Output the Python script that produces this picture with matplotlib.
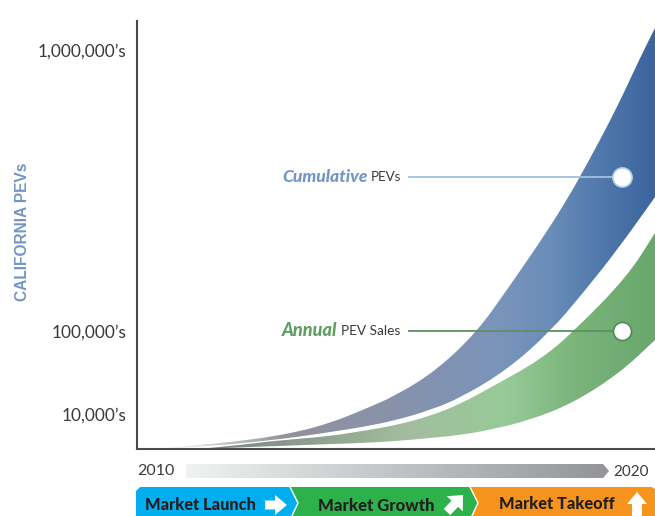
import matplotlib
matplotlib.use('Agg')
import matplotlib.pyplot as plt
import numpy as np
from matplotlib.colors import LinearSegmentedColormap
from matplotlib.patches import PathPatch, Polygon, FancyArrow
from matplotlib.path import Path

plt.rcParams['font.family'] = ['Lato', 'DejaVu Sans']

# Curves: years after 2010, height on the schematic axis
cum_top_x = [0.44, 0.83, 1.80, 2.43, 3.09, 3.73, 4.36, 5.02, 5.79, 6.56, 7.14, 7.78, 8.30, 8.73, 9.07, 9.38, 9.71, 10.0, 10.0]
cum_top_y = [0, 2, 7, 11, 17, 26, 39, 54, 79, 117, 159, 207, 249, 289, 322, 354, 391, 421, 421]
cum_bot_x = [1.47, 2.05, 2.43, 3.09, 3.73, 4.36, 5.02, 5.66, 6.24, 7.14, 7.97, 8.61, 9.27, 9.96, 10.0, 10.0]
cum_bot_y = [3, 6, 8, 12, 17, 22, 29, 39, 51, 79, 117, 156, 199, 249, 252, 252]
ann_top_x = [1.20, 2.18, 2.43, 3.09, 3.73, 4.36, 5.02, 5.66, 6.24, 6.81, 7.78, 8.42, 9.46, 10.0, 10.0]
ann_top_y = [0, 5, 7, 10, 13, 18, 24, 33, 45, 61, 89, 117, 172, 216, 216]
ann_bot_x = [2.12, 2.76, 3.73, 4.36, 5.02, 5.66, 6.24, 6.81, 7.59, 8.42, 9.32, 10.0, 10.0]
ann_bot_y = [2, 3, 5, 6, 8, 11, 14, 19, 29, 46, 76, 109, 109]

tick_pos = [35, 118, 399]
tick_labels = ["10,000\u2019s", "100,000\u2019s", "1,000,000\u2019s"]

marker_x = [9.36, 9.36]
marker_y = [272, 118]
banner_names = ['Market Launch', 'Market Growth', 'Market Takeoff']

cum_cmap = LinearSegmentedColormap.from_list('cum', [
    (0.00, '#ffffff'), (0.10, '#e4e4e6'), (0.28, '#92939a'), (0.50, '#8792ab'),
    (0.70, '#7a94ba'), (0.80, '#6a8db9'), (0.90, '#5078ab'), (1.00, '#3c659e')])
ann_cmap = LinearSegmentedColormap.from_list('ann', [
    (0.00, '#ffffff'), (0.14, '#7b8580'), (0.30, '#8a9a8c'), (0.52, '#a3bd9f'),
    (0.71, '#98ca98'), (0.85, '#7ab47b'), (1.00, '#69a76d')])
bar_cmap = LinearSegmentedColormap.from_list('bar', ['#f1f2f2', '#929497'])


def smooth_path(top_x, top_y, bot_x, bot_y):
    # closed band: upper edge out, lower edge back, with read points as bezier controls
    def edge(x, y):
        pts = list(zip(x, y))
        verts, codes = [], []
        for i in range(1, len(pts) - 1):
            mid = ((pts[i][0] + pts[i + 1][0]) / 2, (pts[i][1] + pts[i + 1][1]) / 2)
            verts += [pts[i], mid]
            codes += [Path.CURVE3, Path.CURVE3]
        return pts[0], verts, codes

    start, v1, c1 = edge(top_x, top_y)
    start2, v2, c2 = edge(bot_x[::-1], bot_y[::-1])
    verts = [start] + v1 + [start2] + v2 + [start, start]
    codes = [Path.MOVETO] + c1 + [Path.LINETO] + c2 + [Path.LINETO, Path.CLOSEPOLY]
    return Path(verts, codes)


fig = plt.figure(figsize=(6.55, 5.16), dpi=100)
W, H = 655, 516

# main chart
ax = fig.add_axes([137 / W, (H - 449) / H, (W - 137) / W, 428 / H])
ax.set_xlim(0, 10)
ax.set_ylim(0, 428)
grad = np.linspace(0, 1, 512).reshape(1, -1)
for tx, ty, bx, by, cmap in [(cum_top_x, cum_top_y, cum_bot_x, cum_bot_y, cum_cmap),
                             (ann_top_x, ann_top_y, ann_bot_x, ann_bot_y, ann_cmap)]:
    im = ax.imshow(grad, extent=[0, 10, 0, 428], aspect='auto', cmap=cmap, zorder=1)
    im.set_clip_path(PathPatch(smooth_path(tx, ty, bx, by), transform=ax.transData))

for s in ['top', 'right']:
    ax.spines[s].set_visible(False)
for s in ['left', 'bottom']:
    ax.spines[s].set_color('#4a4a4c')
    ax.spines[s].set_linewidth(1.5)
ax.set_xticks([])
ax.set_yticks(tick_pos)
ax.set_yticklabels(tick_labels, fontsize=12.4, color='#3a3a3c')
ax.tick_params(axis='y', length=0, pad=7.5)

# callouts
ax.plot([5.26, marker_x[0]], [marker_y[0], marker_y[0]], color='#a3c0e0', lw=1.3, zorder=3)
ax.plot([5.26, marker_x[1]], [marker_y[1], marker_y[1]], color='#5c9160', lw=1.3, zorder=3)
ax.scatter(marker_x[0], marker_y[0], s=190, facecolor='white', edgecolor='#b5cde8', lw=1.2, zorder=4)
ax.scatter(marker_x[1], marker_y[1], s=170, facecolor='white', edgecolor='#4f8a55', lw=1.2, zorder=4)

ax.text(4.45, marker_y[0], 'Cumulative', ha='right', va='center', fontsize=12.6, fontweight='black',
        fontstyle='italic', color='#7395c4')
ax.text(4.52, marker_y[0], 'PEVs', ha='left', va='center', fontsize=9.6, color='#3a3a3c')
ax.text(3.87, marker_y[1], 'Annual', ha='right', va='center', fontsize=13, fontweight='black',
        fontstyle='italic', color='#5f9e62')
ax.text(3.93, marker_y[1], 'PEV Sales', ha='left', va='center', fontsize=9.8, color='#3a3a3c')

# everything outside the plot, in pixels
ov = fig.add_axes([0, 0, 1, 1], zorder=5)
ov.patch.set_alpha(0)
ov.axis('off')

bar = ov.imshow(grad, extent=[186, 609, 478, 464], aspect='auto', cmap=bar_cmap)
bar.set_clip_path(Polygon([[186, 464], [603, 464], [609, 471], [603, 478], [186, 478]], transform=ov.transData))
ov.text(137, 471, '2010', ha='left', va='center', fontsize=11.5, color='#3a3a3c')
ov.text(613, 472, '2020', ha='left', va='center', fontsize=11, color='#3a3a3c')

ov.add_patch(Polygon([[470, 487], [652, 487], [655, 489], [655, 520], [470, 520], [478, 503]], fc='#f7941d', ec='none'))
ov.add_patch(Polygon([[288, 487], [470, 487], [478, 503], [470, 520], [288, 520], [298, 503]], fc='#2db14b', ec='none'))
ov.add_patch(Polygon([[140, 487], [290, 487], [298, 503], [290, 520], [136, 520], [136, 491]], fc='#00aeef', ec='none'))
ov.plot([290, 298, 290], [487, 503, 520], color='white', lw=1)
ov.plot([470, 478, 470], [487, 503, 520], color='white', lw=1)

ov.text(145, 505, banner_names[0], ha='left', va='center', fontsize=11.8, fontweight='black', color='#231f20')
ov.text(318, 506, banner_names[1], ha='left', va='center', fontsize=12, fontweight='black', color='#231f20')
ov.text(499, 504, banner_names[2], ha='left', va='center', fontsize=11.8, fontweight='black', color='#231f20')

ov.add_patch(FancyArrow(265, 505, 22, 0, width=9, head_width=20, head_length=12,
                        length_includes_head=True, fc='white', ec='none'))
ov.add_patch(FancyArrow(447, 512, 16, -17, width=9, head_width=22, head_length=12,
                        length_includes_head=True, fc='white', ec='none'))
ov.add_patch(FancyArrow(637, 516, 0, -24, width=10, head_width=20, head_length=12,
                        length_includes_head=True, fc='white', ec='none'))

ov.set_xlim(0, W)
ov.set_ylim(H, 0)

fig.text(23 / W, (H - 232) / H, 'CALIFORNIA PEVs', rotation=90, ha='center', va='center',
         fontsize=11.2, fontweight='bold', color='#7395c4', family=['Liberation Sans', 'DejaVu Sans'])

fig.savefig('out.png', dpi=100)
